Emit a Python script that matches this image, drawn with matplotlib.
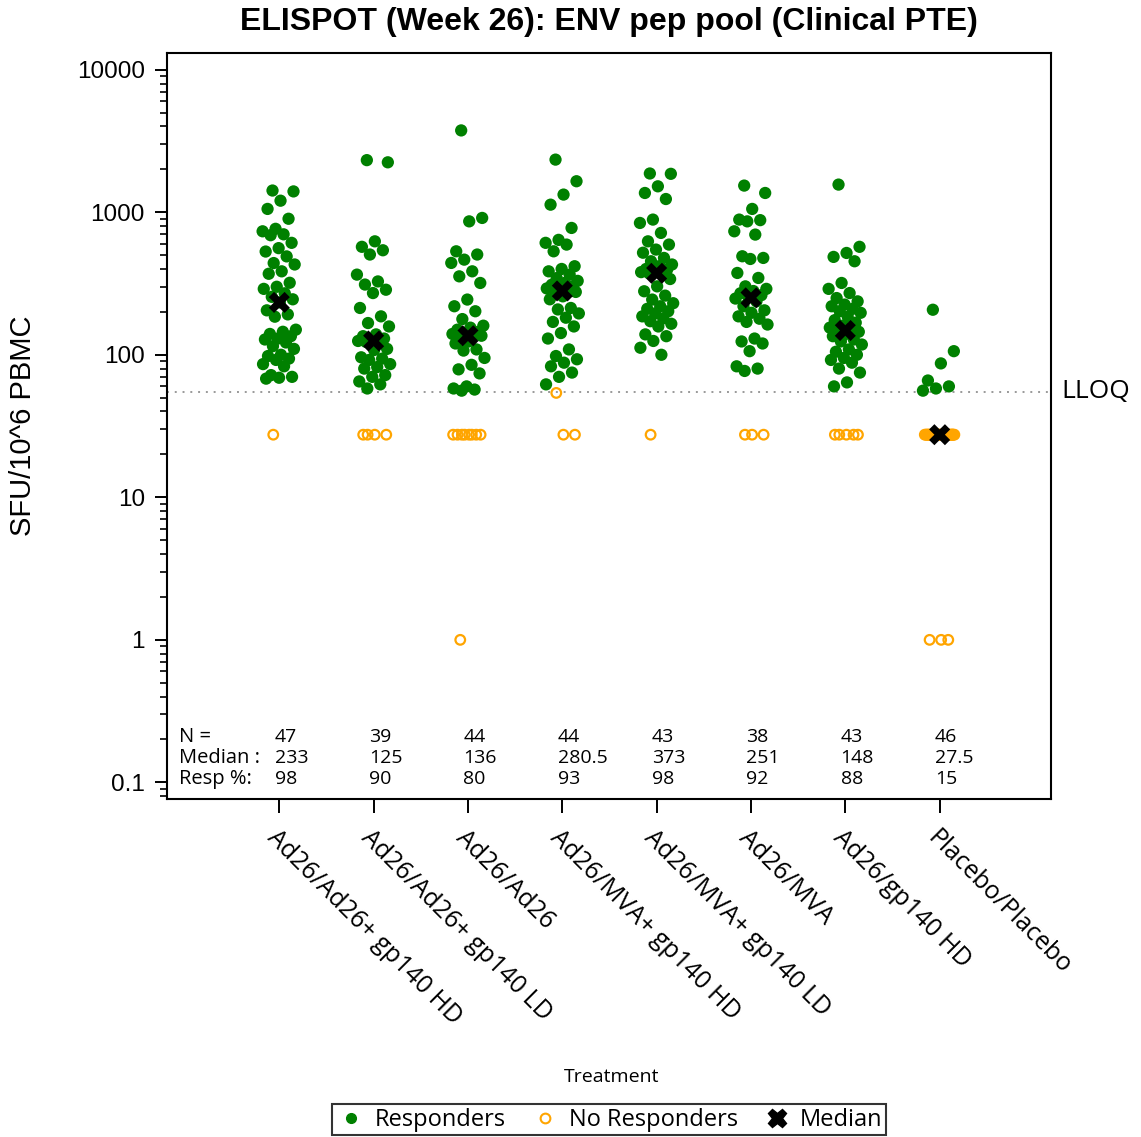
import numpy as np
import matplotlib
matplotlib.use("Agg")
import matplotlib.pyplot as plt
from matplotlib.ticker import LogLocator, FuncFormatter, NullFormatter
from matplotlib.lines import Line2D
import matplotlib.transforms as mtransforms

plt.rcParams['font.family'] = ['Open Sans', 'DejaVu Sans']

treatments = ['Ad26/Ad26+ gp140 HD', 'Ad26/Ad26+ gp140 LD', 'Ad26/Ad26',
              'Ad26/MVA+ gp140 HD', 'Ad26/MVA+ gp140 LD', 'Ad26/MVA',
              'Ad26/gp140 HD', 'Placebo/Placebo']

# SFU per 10^6 PBMC, responders per treatment group
responders = [
    [1420, 1400, 1205, 1055, 900, 765, 735, 700, 690, 610, 560, 530, 490, 440, 430,
     385, 370, 320, 300, 290, 270, 255, 245, 233, 205, 192, 185, 150, 145, 140,
     135, 130, 128, 122, 115, 110, 100, 98, 94, 92, 86, 83, 72, 70, 69, 68],
    [2320, 2240, 625, 572, 541, 505, 365, 327, 311, 286, 271, 213, 186, 167, 158,
     139, 135, 130, 127, 125, 124, 123, 110, 108, 96, 94, 92, 86, 82, 80,
     72, 70, 65, 62, 58],
    [3750, 912, 863, 532, 505, 465, 441, 385, 355, 319, 244, 219, 202, 178, 160,
     155, 150, 145, 142, 140, 138, 136, 136, 124, 120, 109, 107, 95, 85, 79,
     74, 60, 58, 57, 56],
    [2340, 1650, 1330, 1130, 776, 640, 610, 593, 532, 418, 400, 385, 365, 345, 330,
     319, 310, 302, 298, 292, 288, 285, 276, 257, 245, 213, 208, 195, 182, 170,
     158, 142, 130, 109, 98, 93, 88, 83, 75, 70, 62],
    [1870, 1860, 1520, 1365, 1238, 888, 841, 716, 625, 593, 547, 520, 478, 453, 430,
     418, 400, 395, 385, 380, 376, 373, 340, 302, 279, 260, 244, 230, 219, 210,
     202, 195, 186, 180, 172, 165, 158, 139, 135, 125, 112, 100],
    [1538, 1365, 1055, 888, 880, 863, 735, 697, 491, 478, 470, 375, 346, 302, 290,
     280, 270, 262, 254, 248, 237, 219, 205, 197, 186, 179, 170, 163, 130, 124,
     120, 106, 83, 80, 77],
    [1563, 572, 518, 486, 453, 319, 290, 271, 250, 237, 225, 219, 210, 202, 197,
     185, 175, 168, 160, 155, 152, 148, 145, 140, 135, 128, 124, 118, 109, 105,
     100, 95, 92, 88, 80, 75, 64, 60],
    [207, 106, 87, 66, 60, 58, 56],
]

# non-responders (values below LLOQ are set to LLOQ/2 or 1)
non_responders = [
    [27.5],
    [27.5] * 4,
    [27.5] * 8 + [1.0],
    [54, 27.5, 27.5],
    [27.5],
    [27.5] * 3,
    [27.5] * 5,
    [27.5] * 36 + [1.0] * 3,
]

n_total = [47, 39, 44, 44, 43, 38, 43, 46]
medians = [233, 125, 136, 280.5, 373, 251, 148, 27.5]
resp_pct = [98, 90, 80, 93, 98, 92, 88, 15]
lloq = 55

fig = plt.figure(figsize=(11.41, 11.37), dpi=100)
ax = fig.add_axes([0.1464, 0.2973, 0.7747, 0.6561])

green = '#008000'
orange = '#FFA500'
arial = ['Liberation Sans', 'DejaVu Sans']

def spread(n, width):
    # deterministic horizontal jitter
    return ((np.arange(n) * 0.618034 + 0.3) % 1 - 0.5) * width

for i, (r, nr) in enumerate(zip(responders, non_responders)):
    pos = i + 1
    ax.scatter(pos + spread(len(r), 0.36), r, s=78, color=green,
               edgecolors='none', zorder=3)
    ax.scatter(pos + spread(len(nr), 0.32), nr, s=48, facecolors='none',
               edgecolors=orange, linewidths=1.6, zorder=3)
    ax.scatter(pos, medians[i], marker='X', s=230, color='black',
               edgecolors='none', zorder=4)

ax.axhline(lloq, color='#999999', linestyle=(0, (1, 3)), linewidth=1.4, zorder=1)
ax.text(1.012, lloq, 'LLOQ', transform=mtransforms.blended_transform_factory(ax.transAxes, ax.transData),
        ha='left', va='center', fontsize=19, clip_on=False)

ax.set_yscale('log')
ax.set_ylim(0.0765, 13100)
ax.set_xlim(-0.19, 9.18)

ax.yaxis.set_major_locator(LogLocator(base=10, numticks=20))
ax.yaxis.set_minor_locator(LogLocator(base=10, subs=np.arange(2, 10), numticks=20))
ax.yaxis.set_major_formatter(FuncFormatter(lambda v, p: f'{v:g}'))
ax.yaxis.set_minor_formatter(NullFormatter())
ax.tick_params(axis='y', which='major', length=9, width=1.4, labelsize=17.5, pad=7)
ax.tick_params(axis='y', which='minor', length=5, width=1.2)
for lbl in ax.get_yticklabels():
    lbl.set_family(arial)

ax.set_xticks(range(1, len(treatments) + 1))
ax.set_xticklabels(treatments, rotation=-45, ha='left', va='top',
                   rotation_mode='anchor', fontsize=18)
ax.tick_params(axis='x', length=10, width=1.4, pad=9)

for s in ax.spines.values():
    s.set_linewidth(1.5)

# summary table inside the plot
trans = mtransforms.blended_transform_factory(ax.transData, ax.transAxes)
rows_y = [0.083, 0.055, 0.027]
row_names = ['N =', 'Median :', 'Resp %:']
for name, y in zip(row_names, rows_y):
    ax.text(-0.066, y, name, transform=trans, ha='left', va='center', fontsize=14.5)
for i in range(len(treatments)):
    x = i + 1 - 0.05
    ax.text(x, rows_y[0], str(n_total[i]), transform=trans, ha='left', va='center', fontsize=14)
    ax.text(x, rows_y[1], f'{medians[i]:g}', transform=trans, ha='left', va='center', fontsize=14)
    ax.text(x, rows_y[2], str(resp_pct[i]), transform=trans, ha='left', va='center', fontsize=14)

ax.set_ylabel('SFU/10^6 PBMC', fontsize=21, family=arial)
ax.yaxis.set_label_coords(-0.147, 0.5)
ax.set_xlabel('Treatment', fontsize=14)
ax.xaxis.set_label_coords(0.503, -0.36)

fig.text(0.534, 0.981, 'ELISPOT (Week 26): ENV pep pool (Clinical PTE)',
         ha='center', va='center', fontsize=23, fontweight='bold', family=arial)

handles = [
    Line2D([], [], marker='o', linestyle='none', color=green, markersize=7),
    Line2D([], [], marker='o', linestyle='none', markerfacecolor='none',
           markeredgecolor=orange, markeredgewidth=1.5, markersize=7),
    Line2D([], [], marker='X', linestyle='none', color='black', markersize=13),
]
leg = fig.legend(handles, ['Responders', 'No Responders', 'Median'], loc='center',
                 bbox_to_anchor=(0.534, 0.015), ncol=3, fontsize=17, frameon=True,
                 fancybox=False, edgecolor='black', handletextpad=0.35,
                 columnspacing=1.0, borderpad=0.15, handlelength=1.3)
leg.get_frame().set_linewidth(1.5)

fig.savefig('out.png', dpi=100)
